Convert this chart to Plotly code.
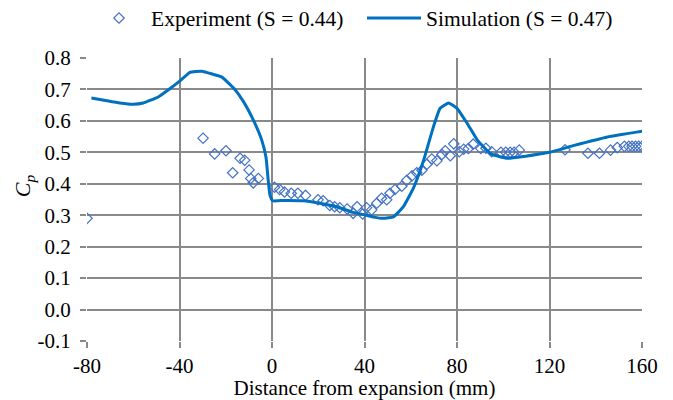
import plotly.graph_objects as go

# Experimental pressure coefficient (S = 0.44)
exp_x = [-80, -29.8, -24.8, -19.9, -17.0, -13.8, -11.8, -9.9, -9.2, -8.1, -5.9,
         1.1, 3.3, 5.4, 8.3, 11.2, 14.5, 19.9, 22.1, 25.0, 27.1, 29.3, 32.5, 35.1,
         36.8, 39.2, 40.9, 43.1, 45.3, 47.4, 49.6, 51.0, 53.2, 56.1, 58.3, 60.5,
         62.6, 64.8, 67.0, 69.1, 71.3, 73.5, 74.9, 77.1, 78.6, 81.0, 82.9, 84.9,
         87.0, 90.3, 92.5, 95.0, 99.0, 101.1, 103.0, 104.7, 106.9, 126.7, 136.6,
         141.6, 146.4, 149.3, 152.4, 154.3, 155.7, 157.2, 158.6, 160.0]
exp_cp = [0.29, 0.545, 0.495, 0.505, 0.435, 0.481, 0.475, 0.444, 0.417, 0.403, 0.417,
          0.389, 0.382, 0.374, 0.370, 0.370, 0.363, 0.349, 0.346, 0.331, 0.327, 0.324,
          0.320, 0.306, 0.327, 0.304, 0.324, 0.317, 0.338, 0.354, 0.349, 0.370, 0.382,
          0.392, 0.411, 0.425, 0.435, 0.443, 0.462, 0.479, 0.473, 0.493, 0.505, 0.489,
          0.527, 0.502, 0.510, 0.512, 0.526, 0.512, 0.513, 0.502, 0.500, 0.500, 0.500,
          0.500, 0.507, 0.508, 0.497, 0.497, 0.507, 0.515, 0.519, 0.519, 0.519, 0.519,
          0.519, 0.519]

# Simulated pressure coefficient (S = 0.47)
sim_x = [-78.1, -72, -65.8, -60.0, -55.7, -49.2, -44.2, -39.8, -35.5, -30.4, -25.4,
         -21.8, -16.7, -12.4, -8.1, -4.4, -2.6, -1.6, -0.9, 0.3, 5, 13.4, 20.6, 27.9,
         35.1, 40.2, 44, 48.1, 52.5, 56.8, 61.2, 65.5, 69.8, 72.7, 76.4, 80.0, 84.5,
         88.9, 94.7, 101.8, 109.0, 120.0, 130.7, 145.1, 160.7]
sim_cp = [0.673, 0.665, 0.657, 0.653, 0.657, 0.676, 0.702, 0.727, 0.754, 0.758, 0.748,
          0.740, 0.705, 0.662, 0.603, 0.538, 0.484, 0.408, 0.365, 0.346, 0.347, 0.346,
          0.338, 0.327, 0.309, 0.301, 0.294, 0.290, 0.295, 0.327, 0.387, 0.473, 0.581,
          0.640, 0.657, 0.640, 0.591, 0.538, 0.495, 0.481, 0.487, 0.500, 0.522, 0.549,
          0.568]

x_ticks = [-80, -40, 0, 40, 80, 120, 160]
y_ticks = [round(-0.1 + 0.1 * i, 1) for i in range(10)]

font_family = "'Liberation Serif', 'Times New Roman', Times, serif"
grid_color = "#898989"
tick_font = dict(family=font_family, size=21, color="black")

fig = go.Figure()
fig.add_trace(go.Scatter(
    x=exp_x, y=exp_cp, mode="markers", name="Experiment (S = 0.44)",
    marker=dict(symbol="diamond-open", size=8, color="#4472C4",
                line=dict(width=1.2, color="#4472C4")),
))
fig.add_trace(go.Scatter(
    x=sim_x, y=sim_cp, mode="lines", name="Simulation (S = 0.47)",
    line=dict(color="#0070C0", width=3, shape="spline", smoothing=0.4),
))

fig.update_layout(
    width=673, height=400,
    margin=dict(l=87, r=31, t=58, b=59, autoexpand=False),
    paper_bgcolor="white", plot_bgcolor="white",
    font=dict(family=font_family, size=21, color="black"),
    showlegend=True,
    legend=dict(orientation="h", x=0.0, xanchor="left", y=0.955, yanchor="middle",
                yref="container", font=dict(size=21.5, family=font_family),
                itemwidth=54, entrywidth=206, entrywidthmode="pixels",
                bgcolor="rgba(0,0,0,0)"),
    xaxis=dict(
        range=[-80, 160], tickvals=x_ticks, ticktext=[str(v) for v in x_ticks],
        showgrid=True, gridcolor=grid_color, gridwidth=2, automargin=False,
        zeroline=False, showline=False, tickfont=tick_font,
        ticks="outside", ticklen=6, tickcolor=grid_color, tickwidth=2,
        title=dict(text="Distance from expansion (mm)", font=dict(size=21), standoff=0),
    ),
    yaxis=dict(
        range=[-0.1, 0.8], tickvals=y_ticks, ticktext=[f"{v:.1f}" for v in y_ticks],
        showgrid=True, gridcolor=grid_color, gridwidth=2, automargin=False,
        zeroline=False, showline=False, tickfont=tick_font,
        ticks="outside", ticklen=6, tickcolor=grid_color, tickwidth=2,
        ticklabelstandoff=5,
    ),
    annotations=[dict(
        text="<i>C<sub>p</sub></i>", textangle=-90, showarrow=False,
        xref="paper", yref="paper", x=-0.112, y=0.55,
        xanchor="center", yanchor="middle",
        font=dict(family=font_family, size=22, color="black"),
    )],
)

fig.write_html("out.html")
